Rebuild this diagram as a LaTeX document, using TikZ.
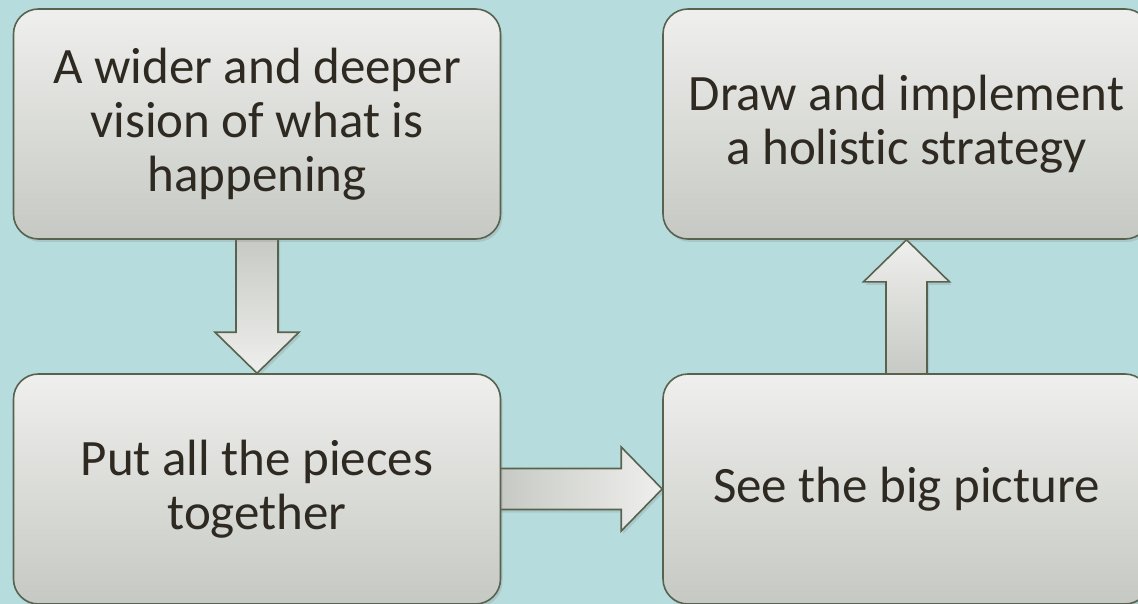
\documentclass[tikz,border=0pt]{standalone}
\usepackage{fontspec}
\setmainfont{Carlito}[Ligatures=NoCommon]
\usetikzlibrary{calc,shadows}
\definecolor{bgc}{HTML}{B7DCDD}
\definecolor{boxtop}{HTML}{EFEFED}
\definecolor{boxbot}{HTML}{C6C9C3}
\definecolor{edgec}{HTML}{58634F}
\definecolor{txtc}{HTML}{2E2A22}
\pgfdeclarelayer{bglayer}
\pgfdeclarelayer{arrowlayer}
\pgfsetlayers{bglayer,arrowlayer,main}
\tikzset{
  stepbox/.style={draw=edgec, line width=1.6pt, rounded corners=25pt,
    top color=boxtop, bottom color=boxbot,
    minimum width=487pt, minimum height=230pt, inner sep=0pt,
    align=center, text=txtc, font=\fontsize{51}{54}\selectfont,
    drop shadow={opacity=0.22, shadow xshift=2pt, shadow yshift=-3pt}},
  blockarrow/.style={draw=edgec, line width=1.6pt, line join=miter,
    drop shadow={opacity=0.22, shadow xshift=2pt, shadow yshift=-3pt}}
}
\begin{document}
\begin{tikzpicture}[x=1pt,y=-1pt]
\begin{pgfonlayer}{bglayer}
\fill[bgc] (0,0) rectangle (1138,604);
\end{pgfonlayer}
\useasboundingbox (0,0) rectangle (1138,604);
\node[stepbox] (a) at (257,124) {A wider and deeper\\vision of what is\\happening};
\node[stepbox] (b) at (257,489) {Put all the pieces\\together};
\node[stepbox] (c) at (906.5,124) {Draw and implement\\a holistic strategy};
\node[stepbox] (d) at (906.5,489) {See the big picture};
\begin{pgfonlayer}{arrowlayer}
% down arrow a -> b
\draw[blockarrow, top color=boxbot, bottom color=boxtop]
  ($(a.south)+(-21,-4)$) -- ($(b.north)+(-21,-41)$) -- ($(b.north)+(-42,-41)$)
  -- (b.north) -- ($(b.north)+(42,-41)$) -- ($(b.north)+(21,-41)$)
  -- ($(a.south)+(21,-4)$) -- cycle;
% right arrow b -> d
\draw[blockarrow, left color=boxbot, right color=boxtop]
  ($(b.east)+(-4,-20.5)$) -- ($(d.west)+(-41,-20.5)$) -- ($(d.west)+(-41,-42)$)
  -- (d.west) -- ($(d.west)+(-41,42)$) -- ($(d.west)+(-41,20.5)$)
  -- ($(b.east)+(-4,20.5)$) -- cycle;
% up arrow d -> c
\draw[blockarrow, top color=boxtop, bottom color=boxbot]
  ($(d.north)+(-20.5,4)$) -- ($(c.south)+(-20.5,42)$) -- ($(c.south)+(-43,42)$)
  -- (c.south) -- ($(c.south)+(43,42)$) -- ($(c.south)+(20.5,42)$)
  -- ($(d.north)+(20.5,4)$) -- cycle;
\end{pgfonlayer}
\end{tikzpicture}
\end{document}
